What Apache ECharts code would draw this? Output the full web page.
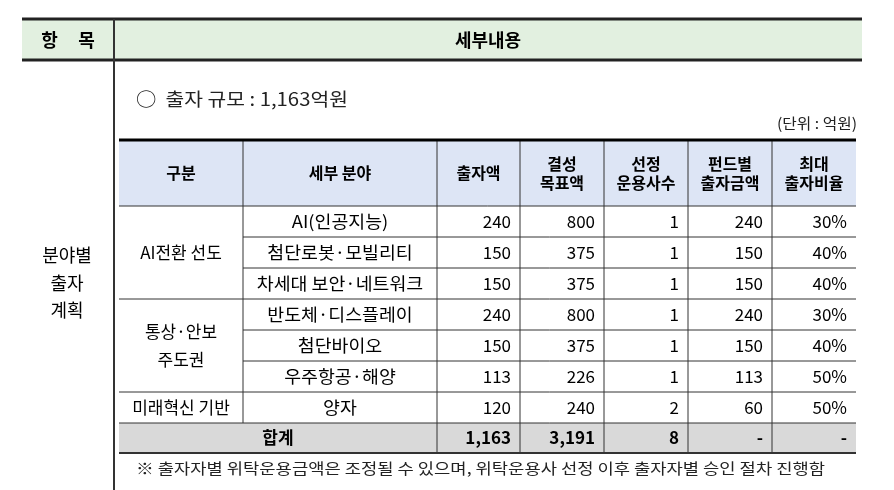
<!DOCTYPE html>
<html><head><meta charset="utf-8">
<script src="https://cdn.jsdelivr.net/npm/echarts@6/dist/echarts.min.js"></script>
<style>html,body{margin:0;padding:0;background:#fff}#c{width:894px;height:490px}</style>
</head><body><div id="c"></div>
<script>
const headers = ['구분','세부 분야','출자액','결성\n목표액','선정\n운용사수','펀드별\n출자금액','최대\n출자비율'];
const groups = ['AI전환 선도','통상·안보\n주도권','미래혁신 기반'];
const groupSpans = [3,3,1];
const fields = ['AI(인공지능)','첨단로봇·모빌리티','차세대 보안·네트워크','반도체·디스플레이','첨단바이오','우주항공·해양','양자'];
const invest = [240,150,150,240,150,113,120];
const target = [800,375,375,800,375,226,240];
const managers = [1,1,1,1,1,1,2];
const perFund = [240,150,150,240,150,113,60];
const maxRatio = ['30%','40%','40%','30%','40%','50%','50%'];
const totals = ['합계','1,163','3,191','8','-','-'];
const title = '○  출자 규모 : 1,163억원';
const unit = '(단위 : 억원)';
const note = '※ 출자자별 위탁운용금액은 조정될 수 있으며, 위탁운용사 선정 이후 출자자별 승인 절차 진행함';

const F = '"Noto Sans CJK KR", sans-serif';
const el = [];
function line(x1,y1,x2,y2,w,c){el.push({type:'line',shape:{x1,y1,x2,y2},style:{stroke:c||'#000',lineWidth:w||1}});}
function rect(x,y,w,h,f){el.push({type:'rect',shape:{x,y,width:w,height:h},style:{fill:f}});}
function text(t,x,y,opt,sx){el.push({type:'text',x,y,scaleX:sx||1,style:Object.assign({text:t,font:'16px '+F,fill:'#000',align:'center',verticalAlign:'middle',lineHeight:19},opt||{})});}

rect(22,19,840,41,'#e2f0e0');
line(22,19,862,19,3,'#222');
line(22,60,862,60,3,'#222');
line(114,19,114,490,2,'#333');
text('항     목',68,40,{font:'bold 18px '+F});
text('세부내용',488,40,{font:'bold 18px '+F});
text('분야별\n출자\n계획',67,283,{font:'18px '+F,lineHeight:27.5});
text(title,136,99,{align:'left',font:'18px '+F,fill:'#222'},1.13);
text(unit,857,123,{align:'right',font:'15px '+F,fill:'#222'},1.05);

const cx = [119,243,437,520,604,688,772,856];
const hy0=140, hy1=206, rh=31;
rect(119,hy0,737,hy1-hy0,'#dde5f5');
headers.forEach((h,i)=>text(h,(cx[i]+cx[i+1])/2,(hy0+hy1)/2,{font:'bold 16px '+F,lineHeight:19}));
const nR = fields.length;
const yOf = r=>hy1+r*rh;
const sumY0=yOf(nR), sumY1=sumY0+30;
rect(119,sumY0,737,30,'#d9d9d9');
const cols=[invest,target,managers,perFund,maxRatio];
fields.forEach((f,r)=>{
  const ym=yOf(r)+rh/2;
  text(f,(cx[1]+cx[2])/2,ym,{font:'17px '+F},1.08);
  cols.forEach((c,j)=>text(String(c[r]),cx[j+3]-9,ym,{align:'right',font:'17px '+F}));
});
let r0=0;
groups.forEach((g,i)=>{
  const r1=r0+groupSpans[i];
  text(g,(cx[0]+cx[1])/2,(yOf(r0)+yOf(r1))/2,{lineHeight:28,font:'17px '+F});
  line(119,yOf(r1),cx[1],yOf(r1),1,'#333');
  r0=r1;
});
for(let r=1;r<=nR;r++) line(cx[1],yOf(r),856,yOf(r),1,'#333');
text(totals[0],(cx[0]+cx[2])/2,(sumY0+sumY1)/2,{font:'bold 17px '+F});
totals.slice(1).forEach((t,j)=>text(t,cx[j+3]-9,(sumY0+sumY1)/2,{align:'right',font:'bold 17px '+F}));
cx.forEach((x,i)=>{
  if(i===0||i===cx.length-1) return;
  const ye = (i===1)? sumY0 : sumY1;
  line(x,hy0,x,ye,1,'#333');
});
line(119,hy0,856,hy0,3,'#000');
line(119,hy1,856,hy1,1,'#333');
line(119,sumY1,856,sumY1,2,'#333');
text(note,136,468,{align:'left',font:'15px '+F,fill:'#222'},1.18);

const chart=echarts.init(document.getElementById('c'));
chart.setOption({animation:false,graphic:{elements:el}});
</script></body></html>
